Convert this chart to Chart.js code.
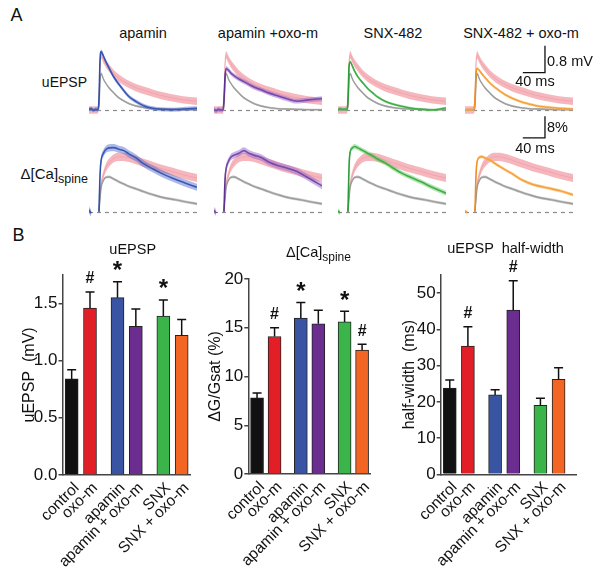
<!DOCTYPE html>
<html><head><meta charset="utf-8">
<script src="https://cdn.jsdelivr.net/npm/chart.js@4.4.1/dist/chart.umd.min.js"></script>
<style>
html,body{margin:0;padding:0;background:#fff}
body{width:600px;height:567px;position:relative;overflow:hidden;font-family:"Liberation Sans",Arial,Helvetica,sans-serif;color:#111}
.t{position:absolute;white-space:pre;line-height:1;color:#111}
.t .sub{position:relative;top:4px}
canvas{position:absolute}
</style></head>
<body>
<script>
// ---------------- DATA ----------------
// Panel A: time (ms from trace start) and mean traces (null = not drawn)
const timeMs = [0,4,8,12,16,18,20,22,26,30,36,45,54,63,72,85,100,115,130,150,170,195];
// uEPSP (mV)
const epspControl   = [0,0,0,0,0,0.1,0.9,1.08,0.92,0.8,0.66,0.5,0.36,0.27,0.19,0.12,0.07,0.04,0.03,0.02,0.01,0.01];
const epspOxo       = [0,0,0,0,0,0.3,1.4,1.63,1.5,1.38,1.25,1.07,0.94,0.84,0.76,0.66,0.58,0.5,0.43,0.36,0.3,0.26];
const epspApamin    = [0.02,0.04,-0.01,0.02,0.01,0.3,1.5,1.73,1.6,1.45,1.25,0.97,0.76,0.57,0.4,0.25,0.12,0.05,0.02,0.01,0.03,0.05];
const epspApaminOxo = [0.01,-0.02,0.02,0,0.01,0.3,1.0,1.23,1.18,1.1,1.02,0.92,0.84,0.76,0.68,0.6,0.5,0.42,0.34,0.26,0.3,0.34];
const epspSnx       = [0,0.04,0.02,0.03,0.01,0.3,1.3,1.43,1.3,1.15,0.98,0.8,0.63,0.5,0.38,0.26,0.17,0.11,0.06,0.02,0,0.06];
const epspSnxOxo    = [0,0.01,0.02,0.01,0.03,0.3,1.1,1.23,1.17,1.08,0.96,0.8,0.67,0.56,0.46,0.35,0.25,0.18,0.12,0.08,0.05,0.03];
// Δ[Ca]spine (%)
const caControl   = [null,null,null,null,null,0,5,9,11.5,12.6,12.8,12,11,10.2,9.3,8.4,7.3,6.3,5.4,4.6,3.8,2.9];
const caOxo       = [null,null,null,null,null,0,6,10,13.5,16,18,19.7,20.2,20.2,19.8,19,17.9,16.9,15.9,14.8,13.6,12.4];
const caApamin    = [0.6,-0.6,null,null,null,0,14,19,21.5,22.8,23.5,23.6,23,22.5,21.3,19.8,17.5,15.8,14.2,12.4,10.8,9.0];
const caApaminOxo = [0.5,-0.5,null,null,null,0,12,16,18.5,20,20.8,21.5,22.5,21.5,20.8,20,18.2,17,16.2,14.8,12.5,9.5];
const caSnx       = [0.3,-0.4,null,null,null,0,17,22,23.5,24,23.5,22.5,21.5,20.5,19.3,18,16,14.2,12.8,11,9,6.8];
const caSnxOxo    = [0.3,-0.3,null,null,null,0,14,18.5,20,20.3,19.8,19,17.8,16.6,15.5,14,12,10.6,9.6,8.7,7.8,6.2];
// SEM of traces: control, oxo-m, apamin, apamin+oxo-m, SNX, SNX+oxo-m
const epspSem = [0.03,0.11,0.06,0.07,0.04,0.04];
const caSem   = [0.5,1.5,1.3,1.2,0.9,0.6];
const columnTitles = ['apamin','apamin +oxo-m','SNX-482','SNX-482 + oxo-m'];

// Panel B
const conditions = ['control','oxo-m','apamin','apamin + oxo-m','SNX','SNX + oxo-m'];
const uepspMean = [0.84,1.46,1.55,1.30,1.39,1.22];
const uepspErr  = [0.08,0.14,0.14,0.15,0.14,0.14];
const uepspSig  = ['','#','*','','*',''];
const caMean = [7.8,14.1,16.0,15.4,15.6,12.7];
const caErr  = [0.5,0.9,1.6,1.4,1.1,0.6];
const caSig  = ['','#','*','','*','#'];
const hwMean = [23.8,35.4,21.9,45.3,19.0,26.2];
const hwErr  = [2.2,5.3,1.4,8.1,2.0,3.2];
const hwSig  = ['','#','','#','',''];

// ---------------- STYLE / LAYOUT ----------------
const FONT = '"Liberation Sans", Arial, Helvetica, sans-serif';
Chart.defaults.font.family = FONT;
Chart.defaults.color = '#111';
const barColors = ['#111111','#e21f26','#3a54a4','#6b2d8f','#3bb44a','#f26522'];
const traceLine = ['#9a9a9a','#f0a0a8','#2f4fa8','#5a2a8c','#2a9a34','#f08a1c'];
const traceFill = ['rgba(160,160,160,0.55)','rgba(243,165,173,0.8)','rgba(70,100,200,0.45)','rgba(150,105,205,0.5)','rgba(90,200,90,0.45)','rgba(250,180,90,0.55)'];

function text(str, x, y, size, align, html) {
  const d = document.createElement('div');
  d.className = 't';
  d.style.fontSize = size + 'px';
  d.style.left = x + 'px';
  d.style.top = (y - 0.49 * size) + 'px';
  if (align === 'center') d.style.transform = 'translateX(-50%)';
  if (align === 'right') d.style.transform = 'translateX(-100%)';
  if (html) d.innerHTML = str; else d.textContent = str;
  document.body.appendChild(d);
  return d;
}
function canvas(left, top, w, h) {
  const c = document.createElement('canvas');
  c.width = w; c.height = h;
  c.style.left = left + 'px'; c.style.top = top + 'px';
  c.style.width = w + 'px'; c.style.height = h + 'px';
  document.body.appendChild(c);
  return c;
}

// ---------------- PANEL A ----------------
text('A', 16.5, 15, 18, 'center');
const colCenters = [143, 268, 393, 521];
columnTitles.forEach((s, i) => text(s, colCenters[i], 33, 14.5, 'center'));
text('uEPSP', 87, 82, 14, 'right');
text('Δ[Ca]<span class="sub" style="font-size:12.5px">spine</span>', 88, 173, 15, 'right', true);

const pts = (vals, k, s) => timeMs.map((t, i) => ({x: t, y: vals[i] == null ? null : vals[i] + k * s}));
function traceSets(vals, s, idx, lw, order) {
  const common = {pointRadius: 0, tension: 0.4, cubicInterpolationMode: 'monotone', order};
  return [
    Object.assign({data: pts(vals, 1, s), borderWidth: 0, fill: '+1', backgroundColor: traceFill[idx]}, common),
    Object.assign({data: pts(vals, -1, s), borderWidth: 0, fill: false}, common),
    Object.assign({data: pts(vals, 0, 0), borderWidth: lw, borderColor: traceLine[idx], fill: false}, common)
  ];
}
const baselinePlugin = {
  id: 'baseline',
  beforeDatasetsDraw(chart) {
    const {ctx, chartArea: a, scales: {y}} = chart;
    const py = Math.round(y.getPixelForValue(0)) + 0.5;
    ctx.save(); ctx.setLineDash([4, 4]); ctx.strokeStyle = '#8a8a8a'; ctx.lineWidth = 1.2;
    ctx.beginPath(); ctx.moveTo(a.left, py); ctx.lineTo(a.right, py); ctx.stroke(); ctx.restore();
  }
};
function scaleBarPlugin(cfg) {
  return {
    id: 'scalebar',
    afterDraw(chart) {
      const {ctx, scales: {x, y}} = chart;
      const x1 = x.getPixelForValue(cfg.t), x0 = x.getPixelForValue(cfg.t - cfg.dt);
      const y0 = y.getPixelForValue(cfg.v), y1 = y.getPixelForValue(cfg.v + cfg.dv);
      ctx.save(); ctx.strokeStyle = '#111'; ctx.lineWidth = 1.3;
      ctx.beginPath(); ctx.moveTo(x1, y1); ctx.lineTo(x1, y0); ctx.lineTo(x0, y0); ctx.stroke();
      ctx.fillStyle = '#111'; ctx.font = '14.5px ' + FONT;
      ctx.textBaseline = 'middle'; ctx.textAlign = 'left';
      ctx.fillText(cfg.vLabel, x1 + 2, (y0 + y1) / 2 + cfg.vShift);
      ctx.textAlign = 'center';
      ctx.fillText(cfg.tLabel, (x0 + x1) / 2 + 1, y0 + cfg.tShift);
      ctx.restore();
    }
  };
}
const colLefts = [89, 214, 338, 465];
const colEpsp = [epspApamin, epspApaminOxo, epspSnx, epspSnxOxo];
const colCa = [caApamin, caApaminOxo, caSnx, caSnxOxo];
function traceChart(col, row) {
  const isEpsp = row === 0;
  const vals = isEpsp ? colEpsp[col] : colCa[col];
  const sem = isEpsp ? epspSem : caSem;
  const ctrl = isEpsp ? epspControl : caControl;
  const oxo = isEpsp ? epspOxo : caOxo;
  const last = col === 3;
  const padR = last ? 45 : 0;
  const c = isEpsp ? canvas(colLefts[col], 40, 108 + padR, 78) : canvas(colLefts[col], 108, 108 + padR, 108);
  const plugins = [baselinePlugin];
  if (last) plugins.push(scaleBarPlugin(isEpsp
    ? {t: 144.4, v: 1.105, dt: 40, dv: 0.8, vLabel: '0.8 mV', tLabel: '40 ms', vShift: 3, tShift: 9.5}
    : {t: 144.4, v: 27.2, dt: 40, dv: 8, vLabel: '8%', tLabel: '40 ms', vShift: 1, tShift: 11}));
  new Chart(c, {
    type: 'line',
    data: {datasets: [
      ...traceSets(vals, sem[col + 2], col + 2, 1.6, 0),
      ...traceSets(ctrl, sem[0], 0, 1.4, 1),
      ...traceSets(oxo, sem[1], 1, 1, 2)
    ]},
    options: {
      responsive: false, animation: false, events: [], spanGaps: false,
      layout: {padding: {left: 0, right: padR, top: 0, bottom: 0}},
      plugins: {legend: {display: false}, tooltip: {enabled: false}},
      scales: {
        x: {type: 'linear', min: 0, max: 195, display: false},
        y: isEpsp ? {min: -0.237, max: 2.074, display: false} : {min: -1.59, max: 38.2, display: false}
      }
    },
    plugins
  });
}
for (let col = 0; col < 4; col++) { traceChart(col, 0); traceChart(col, 1); }

// ---------------- PANEL B ----------------
text('B', 18.5, 235, 18, 'center');
text('uEPSP', 132.7, 249.3, 14.5, 'center');
text('Δ[Ca]<span class="sub" style="font-size:12px">spine</span>', 286, 252, 14.5, 'left', true);
text('uEPSP  half-width', 505.5, 248.3, 14.5, 'center');

// category slots: pairs separated by wider gaps
const SLOTS = [1, 3, 6, 8, 11, 13];
function slotArray(n, src, fillv) {
  const a = new Array(n).fill(fillv);
  SLOTS.forEach((s, i) => { a[s] = src[i]; });
  return a;
}
function barPlugin(err, sig) {
  return {
    id: 'errsig',
    afterDatasetsDraw(chart) {
      const {ctx, scales: {y}} = chart;
      const meta = chart.getDatasetMeta(0);
      const ds = chart.data.datasets[0].data;
      ctx.save();
      ctx.strokeStyle = '#111'; ctx.lineWidth = 1.5; ctx.fillStyle = '#111';
      SLOTS.forEach((s, i) => {
        const bx = meta.data[s].x;
        const top = y.getPixelForValue(ds[s]);
        const et = y.getPixelForValue(ds[s] + err[i]);
        ctx.beginPath();
        ctx.moveTo(bx, top); ctx.lineTo(bx, et);
        ctx.moveTo(bx - 4.5, et); ctx.lineTo(bx + 4.5, et);
        ctx.stroke();
        ctx.textAlign = 'center'; ctx.textBaseline = 'alphabetic';
        if (sig[i] === '#') { ctx.font = 'bold 16px ' + FONT; ctx.fillText('#', bx, et - 8.5); }
        if (sig[i] === '*') { ctx.font = 'bold 24px ' + FONT; ctx.fillText('*', bx, et - 3.5); }
      });
      ctx.restore();
    }
  };
}
function barChart(cfg) {
  const n = cfg.nSlots;
  const c = canvas(cfg.left, 238, cfg.width, 329);
  new Chart(c, {
    type: 'bar',
    data: {
      labels: slotArray(n, conditions, ''),
      datasets: [{
        data: slotArray(n, cfg.mean, null),
        backgroundColor: slotArray(n, barColors, '#000'),
        borderColor: '#222', borderWidth: 1, barThickness: 13
      }]
    },
    options: {
      responsive: false, animation: false, events: [],
      layout: {padding: {left: 0, right: cfg.padRight, top: cfg.padTop, bottom: 0}},
      plugins: {legend: {display: false}, tooltip: {enabled: false}},
      scales: {
        x: {
          offset: false,
          grid: {display: false},
          border: {display: true, color: '#444', width: 1.5},
          ticks: {autoSkip: false, minRotation: 45, maxRotation: 45, padding: -4, labelOffset: 5, color: '#111', font: {size: 15.5}},
          afterFit: s => { s.height = cfg.xHeight; }
        },
        y: {
          min: 0, max: cfg.max,
          grid: {drawOnChartArea: false, drawTicks: true, tickLength: 4, color: '#444', lineWidth: 1.5},
          border: {display: true, color: '#444', width: 1.5},
          ticks: {stepSize: cfg.step, includeBounds: false, padding: 1, color: '#111', font: {size: 17},
                  callback: cfg.fmt},
          title: {display: true, text: cfg.title, color: '#111', font: {size: 16}, padding: {top: cfg.titlePad, bottom: 0}},
          afterFit: s => { s.width = cfg.yWidth; }
        }
      }
    },
    plugins: [barPlugin(cfg.err, cfg.sig)]
  });
}
barChart({left: 0, width: 200, nSlots: 15, mean: uepspMean, err: uepspErr, sig: uepspSig,
  max: 1.75, step: 0.5, fmt: v => v.toFixed(1), title: 'uEPSP  (mV)',
  yWidth: 62.5, titlePad: 20, padTop: 36.8, padRight: 3, xHeight: 92});
barChart({left: 190, width: 190, nSlots: 15, mean: caMean, err: caErr, sig: caSig,
  max: 20, step: 5, fmt: v => String(v), title: 'ΔG/Gsat (%)',
  yWidth: 58.3, titlePad: 16.4, padTop: 41, padRight: 3.3, xHeight: 93});
barChart({left: 390, width: 210, nSlots: 16, mean: hwMean, err: hwErr, sig: hwSig,
  max: 55, step: 10, fmt: v => String(v), title: 'half-width  (ms)',
  yWidth: 50.7, titlePad: 10.4, padTop: 37, padRight: 23.3, xHeight: 92.7});
</script>
</body></html>
